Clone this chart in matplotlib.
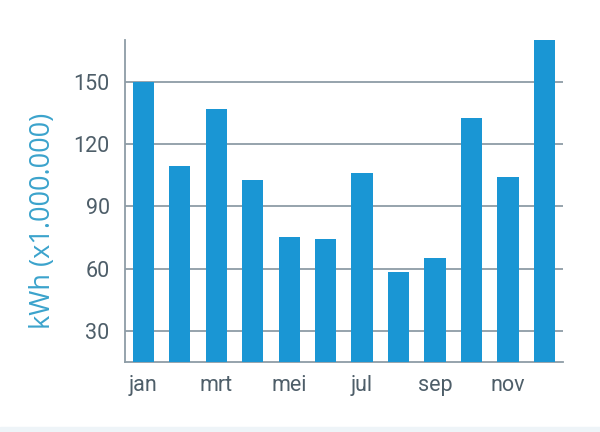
import matplotlib
matplotlib.use('Agg')
import matplotlib.pyplot as plt
from matplotlib.patches import Rectangle
import numpy as np


months = ['jan', 'feb', 'mrt', 'apr', 'mei', 'jun', 'jul', 'aug', 'sep', 'okt', 'nov', 'dec']
kwh = [150, 109.5, 137, 102.5, 75.5, 74.5, 106, 58.5, 65, 132.5, 104, 170]
yticks = [30, 60, 90, 120, 150]

bar_color = '#1a96d4'
grid_color = '#8d9ca6'
text_color = '#4e5e69'
label_color = '#3ba3cc'

fig = plt.figure(figsize=(6, 4.32), dpi=100)
fig.patch.set_facecolor('white')
ax = fig.add_axes([0.2083, 0.1613, 0.7295, 0.7457])

x = np.arange(len(months))
ax.bar(x, kwh, width=0.58, color=bar_color, zorder=3)

ax.set_xlim(-0.5, 11.5)
ax.set_ylim(15, 170)
ax.set_yticks(yticks)
ax.set_xticks(x[::2])
ax.set_xticklabels(months[::2])

ax.grid(axis='y', color=grid_color, linewidth=1.3, zorder=1)
ax.set_axisbelow(True)

for s in ['top', 'right']:
    ax.spines[s].set_visible(False)
for s in ['left', 'bottom']:
    ax.spines[s].set_color(grid_color)
    ax.spines[s].set_linewidth(1.3)

ax.tick_params(length=0, pad=11, labelcolor=text_color, labelsize=15.5)
for t in ax.get_xticklabels() + ax.get_yticklabels():
    t.set_family(['Roboto', 'DejaVu Sans'])
ax.tick_params(axis='x', pad=9)

fig.text(43 / 600, 1 - 221 / 432, 'kWh (x1.000.000)', rotation=90,
         ha='center', va='center', color=label_color, fontsize=19.5,
         family=['Open Sans', 'DejaVu Sans'])

# light band at the bottom
fig.patches.append(Rectangle((0, 0), 1, 5 / 432, transform=fig.transFigure,
                             color='#eef4f8', zorder=0))

fig.savefig('out.png', dpi=100)
